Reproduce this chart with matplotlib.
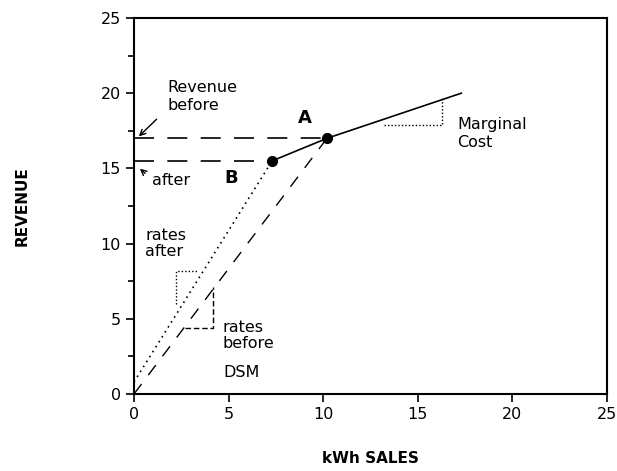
import numpy as np
import matplotlib
matplotlib.use('Agg')
import matplotlib.pyplot as plt

# points on the revenue curve
pt_A = (10.2, 17.0)
pt_B = (7.3, 15.5)

# lines (kWh sales, revenue)
before_x = [0.0, 10.2]
before_y = [0.0, 17.0]
after_x = [0.0, 7.3]
after_y = [0.8, 15.5]
mc_x = [7.3, 10.2, 17.3]
mc_y = [15.5, 17.0, 20.0]

# slope triangles
tri_after_x = [2.2, 2.2, 3.4]
tri_after_y = [6.0, 8.2, 8.2]
tri_before_x = [2.7, 4.15, 4.15]
tri_before_y = [4.4, 4.4, 7.1]
tri_mc_x = [13.2, 16.3, 16.3]
tri_mc_y = [17.9, 17.9, 19.7]

ticks = [0, 5, 10, 15, 20, 25]

fig = plt.figure(figsize=(6.17, 4.71), dpi=100)
ax = fig.add_axes([0.2172, 0.1635, 0.7666, 0.7983])

dash = (0, (12, 8))
ax.plot(mc_x, mc_y, color='black', lw=1.2)
ax.plot(before_x, before_y, color='black', lw=1.0, linestyle=(0, (9, 8)))
ax.plot(after_x, after_y, color='black', lw=1.2, linestyle=(0, (1, 2.5)))
ax.plot([0, pt_A[0]], [pt_A[1], pt_A[1]], color='black', lw=1.2, linestyle=dash)
ax.plot([0, pt_B[0]], [pt_B[1], pt_B[1]], color='black', lw=1.2, linestyle=dash)

ax.plot(tri_after_x, tri_after_y, color='black', lw=1.0, linestyle=(0, (1, 1.5)))
ax.plot(tri_before_x, tri_before_y, color='black', lw=1.0, linestyle=(0, (4, 2)))
ax.plot(tri_mc_x, tri_mc_y, color='black', lw=1.0, linestyle=(0, (1, 1.5)))

ax.plot(*pt_A, 'o', color='black', ms=7)
ax.plot(*pt_B, 'o', color='black', ms=7)

fs = 11.5
ax.text(9.05, 18.35, 'A', fontsize=13, fontweight='bold', ha='center', va='center')
ax.text(5.15, 14.35, 'B', fontsize=13, fontweight='bold', ha='center', va='center')
ax.text(1.75, 19.8, 'Revenue\nbefore', fontsize=fs, ha='left', va='center', linespacing=1.25)
ax.annotate('', xy=(0.15, 17.0), xytext=(1.3, 18.4),
            arrowprops=dict(arrowstyle='->', color='black', lw=1.0))
ax.text(0.95, 14.2, 'after', fontsize=fs, ha='left', va='center')
ax.annotate('', xy=(0.2, 15.1), xytext=(0.7, 14.55),
            arrowprops=dict(arrowstyle='->', color='black', lw=1.0))
ax.text(17.1, 17.3, 'Marginal\nCost', fontsize=fs, ha='left', va='center', linespacing=1.25)
ax.text(0.6, 10.0, 'rates\nafter', fontsize=fs, ha='left', va='center', linespacing=1.1)
ax.text(4.7, 4.9, 'rates\nbefore', fontsize=fs, ha='left', va='top', linespacing=1.1)
ax.text(4.7, 1.4, 'DSM', fontsize=fs, ha='left', va='center')

ax.set_xlim(0, 25)
ax.set_ylim(0, 25)
ax.set_xticks(ticks)
ax.set_yticks(ticks)
ax.set_yticks(np.arange(2.5, 25, 5), minor=True)
ax.tick_params(axis='both', which='major', direction='out', length=6, width=1.2, labelsize=fs)
ax.tick_params(axis='y', which='minor', direction='out', length=4, width=1.2)
for s in ax.spines.values():
    s.set_linewidth(1.5)

ax.set_xlabel('kWh SALES', fontsize=11, fontweight='heavy', labelpad=21)
ax.set_ylabel('REVENUE', fontsize=11, fontweight='heavy', labelpad=51)

fig.savefig('out.png', dpi=100)
